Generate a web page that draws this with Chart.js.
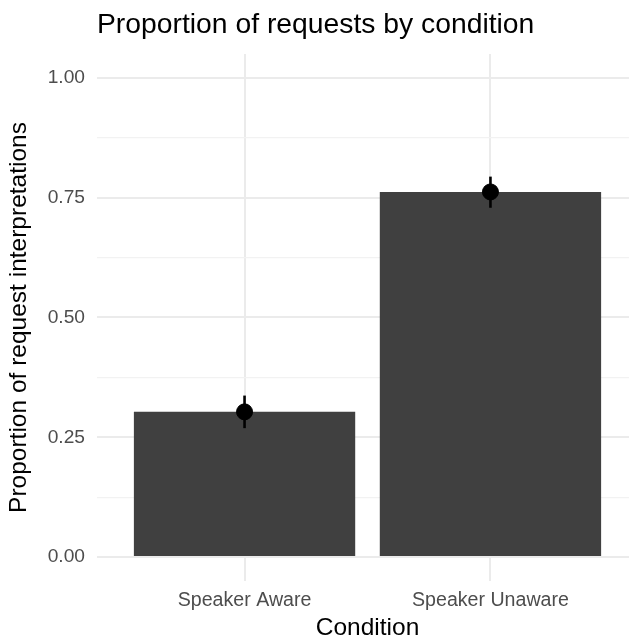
<!DOCTYPE html>
<html>
<head>
<meta charset="utf-8">
<script src="https://cdn.jsdelivr.net/npm/chart.js@4"></script>
<style>
html,body{margin:0;padding:0;background:#fff;overflow:hidden;}
#wrap{position:absolute;left:0;top:0;width:645px;height:643px;}
</style>
</head>
<body>
<div id="wrap"><canvas id="chart"></canvas></div>
<script>
/* DATA */
const conditions=['Speaker Aware','Speaker Unaware'];
const proportions=[0.303,0.762];
const ciLower=[0.269,0.729];
const ciUpper=[0.337,0.794];
const yMajor=[0,0.25,0.5,0.75,1];
const yMinor=[0.125,0.375,0.625,0.875];

const xPos=conditions.map((c,i)=>i+1);
const FONT="'Liberation Sans', Arial, Helvetica, sans-serif";

const errDatasets=xPos.map((x,i)=>({
  type:'line',
  data:[{x:x,y:ciLower[i]},{x:x,y:ciUpper[i]}],
  borderColor:'#000',borderWidth:2.6,pointRadius:0,order:2
}));

new Chart(document.getElementById('chart'),{
  type:'bar',
  data:{datasets:[
    {type:'scatter',data:xPos.map((x,i)=>({x:x,y:proportions[i]})),backgroundColor:'#000',borderColor:'#000',pointRadius:8,order:1},
    ...errDatasets,
    {type:'bar',data:xPos.map((x,i)=>({x:x,y:proportions[i]})),backgroundColor:'#404040',categoryPercentage:1,barPercentage:0.9,order:3}
  ]},
  options:{
    responsive:true,maintainAspectRatio:false,animation:false,
    layout:{padding:{left:0,right:7,top:0,bottom:0},autoPadding:false},
    plugins:{
      legend:{display:false},tooltip:{enabled:false},
      title:{display:true,text:'Proportion of requests by condition',align:'start',fullSize:false,
        color:'#000',font:{family:FONT,size:28.3,weight:'normal',lineHeight:1.2},padding:{top:8,bottom:12}}
    },
    scales:{
      x:{type:'linear',min:0.4,max:2.6,offset:false,
        afterBuildTicks:s=>{s.ticks=xPos.map(v=>({value:v}));},
        afterFit:s=>{s.height=62;},
        ticks:{callback:v=>conditions[v-1]||'',color:'#4d4d4d',padding:8,font:{family:FONT,size:19.6}},
        grid:{color:'#ebebeb',lineWidth:2,drawTicks:false,offset:false},
        border:{display:false},
        title:{display:true,text:'Condition',color:'#000',font:{family:FONT,size:24.5,lineHeight:1.2},padding:{top:0,bottom:0}}
      },
      y:{type:'linear',min:-0.05,max:1.05,
        afterBuildTicks:s=>{s.ticks=[...yMajor,...yMinor].sort((a,b)=>a-b).map(v=>({value:v}));},
        afterFit:s=>{s.width=97;},
        ticks:{callback:v=>yMajor.includes(v)?v.toFixed(2):'',color:'#4d4d4d',padding:12,font:{family:FONT,size:19.2}},
        grid:{color:c=>yMajor.includes(c.tick.value)?'#ebebeb':'#f2f2f2',lineWidth:c=>yMajor.includes(c.tick.value)?2:1.2,drawTicks:false},
        border:{display:false},
        title:{display:true,text:'Proportion of request interpretations',color:'#000',font:{family:FONT,size:24.5,lineHeight:1.2},padding:{top:5,bottom:0}}
      }
    }
  }
});
</script>
</body>
</html>
